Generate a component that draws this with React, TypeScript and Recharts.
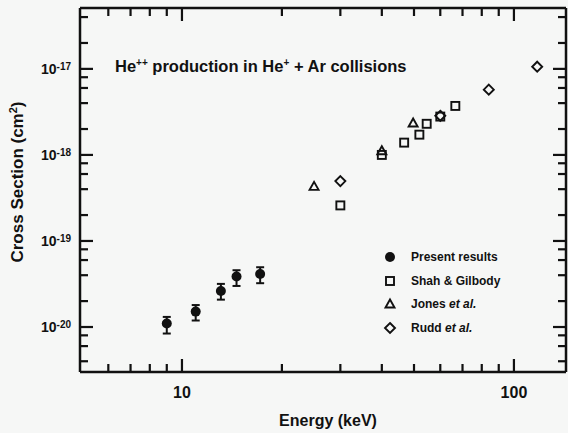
import React from 'react';
import { ScatterChart, Scatter, XAxis, YAxis, ErrorBar, Legend } from 'recharts';

const FONT = '"Liberation Sans", Arial, Helvetica, sans-serif';
const INK = '#111';
const PAPER = '#f6f7f6';

// Present results, with lower / upper error bounds
const presentEnergy = [9.0, 11.0, 13.1, 14.6, 17.2];
const presentSigma = [1.1e-20, 1.51e-20, 2.62e-20, 3.86e-20, 4.14e-20];
const presentLow = [8.4e-21, 1.19e-20, 2.08e-20, 3.0e-20, 3.23e-20];
const presentHigh = [1.31e-20, 1.8e-20, 3.17e-20, 4.57e-20, 4.95e-20];

// Shah & Gilbody
const shahEnergy = [30, 40, 46.7, 51.9, 54.6, 60, 66.6];
const shahSigma = [2.59e-19, 1.0e-18, 1.39e-18, 1.72e-18, 2.3e-18, 2.79e-18, 3.71e-18];

// Jones et al.
const jonesEnergy = [25, 40, 49.7];
const jonesSigma = [4.31e-19, 1.12e-18, 2.35e-18];

// Rudd et al.
const ruddEnergy = [30, 60, 84, 117.5];
const ruddSigma = [4.97e-19, 2.85e-18, 5.74e-18, 1.06e-17];

const xTicks = [6, 7, 8, 9, 10, 20, 30, 40, 50, 60, 70, 80, 90, 100];
const yTicks = [
  4e-21, 6e-21, 8e-21,
  1e-20, 2e-20, 4e-20, 6e-20, 8e-20,
  1e-19, 2e-19, 4e-19, 6e-19, 8e-19,
  1e-18, 2e-18, 4e-18, 6e-18, 8e-18,
  1e-17, 2e-17, 4e-17,
];

const X_DOMAIN = [4.93, 143.5];
const Y_DOMAIN = [3.0e-21, 5.1e-17];

const legendItems = [
  { key: 'present', label: 'Present results', suffix: '' },
  { key: 'shah', label: 'Shah & Gilbody', suffix: '' },
  { key: 'jones', label: 'Jones ', suffix: 'et al.' },
  { key: 'rudd', label: 'Rudd ', suffix: 'et al.' },
];

// error bars are given as [down, up] offsets from the point
const present = presentEnergy.map((x, i) => ({
  x,
  y: presentSigma[i],
  err: [presentSigma[i] - presentLow[i], presentHigh[i] - presentSigma[i]],
}));
const shah = shahEnergy.map((x, i) => ({ x, y: shahSigma[i] }));
const jones = jonesEnergy.map((x, i) => ({ x, y: jonesSigma[i] }));
const rudd = ruddEnergy.map((x, i) => ({ x, y: ruddSigma[i] }));

const isDecade = (v: number) => {
  const l = Math.log10(v);
  return Math.abs(l - Math.round(l)) < 1e-6;
};

// chart box: margins plus axis sizes give the plot rectangle
const W = 568;
const H = 433;
const MARGIN = { top: 7, right: 1, bottom: 21, left: 20 };
const PLOT = {
  left: MARGIN.left + 60,
  right: W - MARGIN.right - 1,
  top: MARGIN.top + 1,
  bottom: H - MARGIN.bottom - 40,
};

// same log mapping the axes use, for the inward frame ticks
const logPos = (v: number, [d0, d1]: number[], r0: number, r1: number) =>
  r0 + ((Math.log10(v) - Math.log10(d0)) / (Math.log10(d1) - Math.log10(d0))) * (r1 - r0);

const MAJOR = 13;
const MINOR = 8;
const TW = 2.2;

// ticks as thin filled bars so they hold up against the heavy frame
const FrameTicks = () => (
  <g fill={INK} stroke="none">
    {xTicks.map((v) => {
      const x = logPos(v, X_DOMAIN, PLOT.left, PLOT.right);
      const len = isDecade(v) ? MAJOR : MINOR;
      return (
        <g key={`x${v}`}>
          <rect x={x - TW / 2} y={PLOT.bottom - len} width={TW} height={len} />
          <rect x={x - TW / 2} y={PLOT.top} width={TW} height={len} />
        </g>
      );
    })}
    {yTicks.map((v) => {
      const y = logPos(v, Y_DOMAIN, PLOT.bottom, PLOT.top);
      const len = isDecade(v) ? MAJOR : MINOR;
      return (
        <g key={`y${v}`}>
          <rect x={PLOT.left} y={y - TW / 2} width={len} height={TW} />
          <rect x={PLOT.right - len} y={y - TW / 2} width={len} height={TW} />
        </g>
      );
    })}
  </g>
);

// tick labels come from the axes
const renderBottomLabel = (p: any) =>
  isDecade(p.payload.value) ? (
    <text x={p.x} y={Number(p.y) + 26} textAnchor="middle" fontSize={16} fontWeight="bold" fill={INK} fontFamily={FONT}>
      {p.payload.value}
    </text>
  ) : (
    <g />
  );

const renderLeftLabel = (p: any) =>
  isDecade(p.payload.value) ? (
    <text x={Number(p.x) - 9} y={Number(p.y) + 5} textAnchor="end" fontSize={14} fontWeight="bold" fill={INK} fontFamily={FONT}>
      10
      <tspan dy={-4} fontSize={10}>{Math.round(Math.log10(p.payload.value))}</tspan>
    </text>
  ) : (
    <g />
  );

const Dot = ({ cx, cy }: any) => <circle cx={cx} cy={cy} r={5} fill={INK} />;
const Square = ({ cx, cy }: any) => (
  <rect x={cx - 4} y={cy - 4} width={8} height={8} fill="none" stroke={INK} strokeWidth={1.9} />
);
const Triangle = ({ cx, cy }: any) => (
  <polygon
    points={`${cx},${cy - 4.5} ${cx + 4.5},${cy + 3.5} ${cx - 4.5},${cy + 3.5}`}
    fill="none"
    stroke={INK}
    strokeWidth={1.9}
  />
);
const Diamond = ({ cx, cy }: any) => (
  <polygon
    points={`${cx},${cy - 5} ${cx + 5},${cy} ${cx},${cy + 5} ${cx - 5},${cy}`}
    fill="none"
    stroke={INK}
    strokeWidth={1.9}
  />
);

const markerFor: Record<string, (p: any) => React.ReactElement> = {
  present: Dot,
  shah: Square,
  jones: Triangle,
  rudd: Diamond,
};

const LegendBox = () => (
  <div style={{ fontFamily: FONT, fontSize: 12, fontWeight: 'bold', color: INK }}>
    {legendItems.map((item) => {
      const Marker = markerFor[item.key];
      return (
        <div key={item.key} style={{ display: 'flex', alignItems: 'center', height: 23.7 }}>
          <svg width={16} height={16} style={{ display: 'block' }}>
            <Marker cx={8} cy={8} />
          </svg>
          <span style={{ marginLeft: 13 }}>
            {item.label}
            {item.suffix && <i>{item.suffix}</i>}
          </span>
        </div>
      );
    })}
  </div>
);

const frame = { stroke: INK, strokeWidth: 2.5 };

export default function App() {
  return (
    <div style={{ position: 'absolute', left: 0, top: 0, width: W, height: H, background: PAPER }}>
      <ScatterChart width={W} height={H} margin={MARGIN}>
        <XAxis
          xAxisId="b"
          dataKey="x"
          type="number"
          scale="log"
          domain={X_DOMAIN}
          ticks={xTicks}
          interval={0}
          height={40}
          tickSize={0}
          tickMargin={0}
          tickLine={false}
          tick={renderBottomLabel}
          axisLine={frame}
        />
        <XAxis
          xAxisId="t"
          orientation="top"
          type="number"
          scale="log"
          domain={X_DOMAIN}
          height={1}
          tick={false}
          tickLine={false}
          axisLine={frame}
        />
        <YAxis
          yAxisId="l"
          dataKey="y"
          type="number"
          scale="log"
          domain={Y_DOMAIN}
          ticks={yTicks}
          interval={0}
          width={60}
          tickSize={0}
          tickMargin={0}
          tickLine={false}
          tick={renderLeftLabel}
          axisLine={frame}
        />
        <YAxis
          yAxisId="r"
          orientation="right"
          type="number"
          scale="log"
          domain={Y_DOMAIN}
          width={1}
          tick={false}
          tickLine={false}
          axisLine={frame}
        />

        <Scatter name="Shah & Gilbody" data={shah} xAxisId="b" yAxisId="l" shape={Square} isAnimationActive={false} />
        <Scatter name="Jones et al." data={jones} xAxisId="b" yAxisId="l" shape={Triangle} isAnimationActive={false} />
        <Scatter name="Rudd et al." data={rudd} xAxisId="b" yAxisId="l" shape={Diamond} isAnimationActive={false} />
        <Scatter name="Present results" data={present} xAxisId="b" yAxisId="l" shape={Dot} isAnimationActive={false}>
          <ErrorBar dataKey="err" direction="y" width={4} stroke={INK} strokeWidth={2} isAnimationActive={false} />
        </Scatter>

        <Legend
          layout="vertical"
          align="center"
          verticalAlign="middle"
          content={<LegendBox />}
          wrapperStyle={{ left: 382, top: 245, width: 160, height: 100 }}
        />
      </ScatterChart>

      <svg
        width={W}
        height={H}
        style={{ position: 'absolute', left: 0, top: 0, pointerEvents: 'none' }}
        fontFamily={FONT}
        fill={INK}
      >
        <FrameTicks />
        <text x={115} y={72} fontSize={16.5} fontWeight="bold">
          He<tspan dy={-6} fontSize={10}>++</tspan>
          <tspan dy={6}> production in He</tspan>
          <tspan dy={-6} fontSize={10}>+</tspan>
          <tspan dy={6}> + Ar collisions</tspan>
        </text>
        <text x={328} y={426} textAnchor="middle" fontSize={16} fontWeight="bold">
          Energy (keV)
        </text>
        <text transform="translate(23,182) rotate(-90)" textAnchor="middle" fontSize={17} fontWeight="bold">
          Cross Section (cm<tspan dy={-6} fontSize={11}>2</tspan>
          <tspan dy={6}>)</tspan>
        </text>
      </svg>
    </div>
  );
}
